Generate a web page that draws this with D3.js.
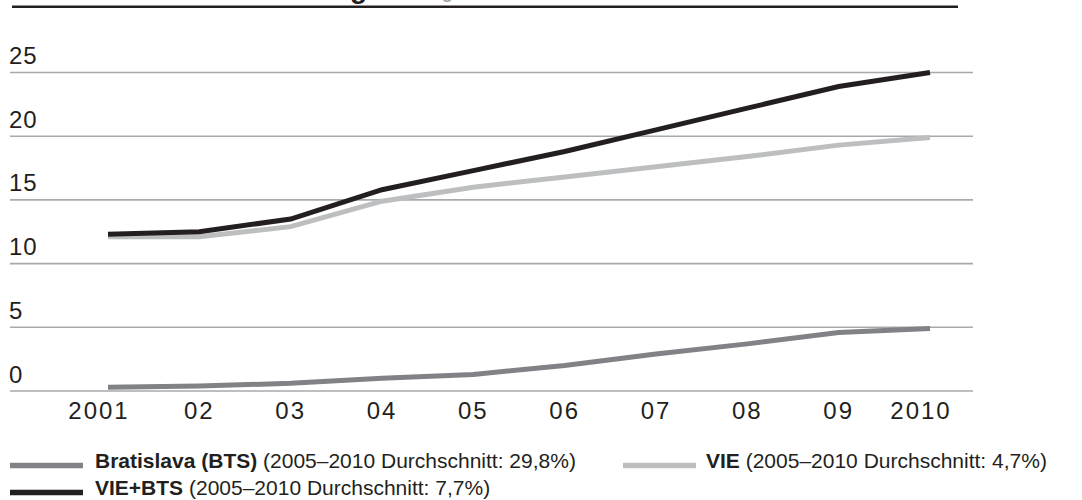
<!DOCTYPE html>
<html>
<head>
<meta charset="utf-8">
<script src="https://cdn.jsdelivr.net/npm/d3@7"></script>
<style>
  html, body { margin: 0; padding: 0; background: #fff; }
  svg { display: block; font-family: "Liberation Sans", Arial, sans-serif; }
</style>
</head>
<body>
<svg id="chart" width="1082" height="500"></svg>
<script>
// Passagiere in Millionen, 2001–2010
const years = [2001, 2002, 2003, 2004, 2005, 2006, 2007, 2008, 2009, 2010];
const yearLabels = ["2001", "02", "03", "04", "05", "06", "07", "08", "09", "2010"];
const yTicks = [0, 5, 10, 15, 20, 25];

const bts    = [0.3, 0.4, 0.6, 1.0, 1.3, 2.0, 2.9, 3.7, 4.6, 4.9];
const vie    = [12.1, 12.1, 12.9, 14.9, 16.0, 16.8, 17.6, 18.4, 19.3, 19.9];
const vieBts = [12.3, 12.5, 13.5, 15.8, 17.3, 18.8, 20.5, 22.2, 23.9, 25.0];

const seriesNames = ["Bratislava (BTS)", "VIE", "VIE+BTS"];
const seriesNotes = [
  " (2005–2010 Durchschnitt: 29,8%)",
  " (2005–2010 Durchschnitt: 4,7%)",
  " (2005–2010 Durchschnitt: 7,7%)"
];
const seriesColors = ["#808285", "#bcbec0", "#231f20"];

const svg = d3.select("#chart");

const x = d3.scaleLinear().domain([2001, 2010]).range([108, 930]);
const y = d3.scaleLinear().domain([0, 25]).range([391, 72.5]);

// heading, running off the top edge
svg.append("text")
  .attr("x", 367).attr("y", -2)
  .attr("text-anchor", "end")
  .attr("font-size", 28).attr("font-weight", "bold")
  .attr("fill", "#231f20")
  .text("Verkehrsentwicklung");
svg.append("text")
  .attr("x", 380).attr("y", -3)
  .attr("font-size", 22)
  .attr("fill", "#9d9fa2")
  .text("Passagiere, in Millionen");

// heading rule
svg.append("line")
  .attr("x1", 12).attr("x2", 958)
  .attr("y1", 6.8).attr("y2", 6.8)
  .attr("stroke", "#231f20").attr("stroke-width", 2.4);

// horizontal grid
svg.append("g").selectAll("line")
  .data(yTicks).join("line")
  .attr("x1", 10).attr("x2", 973)
  .attr("y1", d => y(d)).attr("y2", d => y(d))
  .attr("stroke", "#a7a9ac").attr("stroke-width", 1.6);

// y tick labels, sitting above their grid lines
svg.append("g").selectAll("text")
  .data(yTicks).join("text")
  .attr("x", 9)
  .attr("y", d => y(d) - 8.5)
  .attr("font-size", 24)
  .attr("letter-spacing", 1)
  .attr("fill", "#231f20")
  .text(d => d);

// x labels
svg.append("g").selectAll("text")
  .data(years).join("text")
  .attr("x", (d, i) => x(d) + (yearLabels[i].length > 2 ? -9 : 0))
  .attr("y", 419)
  .attr("text-anchor", "middle")
  .attr("font-size", 24)
  .attr("letter-spacing", 2)
  .attr("fill", "#231f20")
  .text((d, i) => yearLabels[i]);

// lines
const line = d3.line()
  .x((d, i) => x(years[i]))
  .y(d => y(d));

const seriesData = [bts, vie, vieBts];
svg.append("g").selectAll("path")
  .data(seriesData).join("path")
  .attr("d", d => line(d))
  .attr("fill", "none")
  .attr("stroke", (d, i) => seriesColors[i])
  .attr("stroke-width", 5)
  .attr("stroke-linejoin", "miter")
  .attr("stroke-linecap", "butt");

// legend
const legendItems = [
  { i: 0, sx: 10, tx: 95, y: 468 },
  { i: 1, sx: 623, tx: 706, y: 468 },
  { i: 2, sx: 10, tx: 95, y: 495 }
];
const lg = svg.append("g");
legendItems.forEach(it => {
  lg.append("line")
    .attr("x1", it.sx).attr("x2", it.sx + 73)
    .attr("y1", it.y - 2.5).attr("y2", it.y - 2.5)
    .attr("stroke", seriesColors[it.i])
    .attr("stroke-width", 5.5);
  const t = lg.append("text")
    .attr("x", it.tx).attr("y", it.y)
    .attr("font-size", 21)
    .attr("fill", "#231f20");
  t.append("tspan").attr("font-weight", "bold").text(seriesNames[it.i]);
  t.append("tspan").text(seriesNotes[it.i]);
});
</script>
</body>
</html>
